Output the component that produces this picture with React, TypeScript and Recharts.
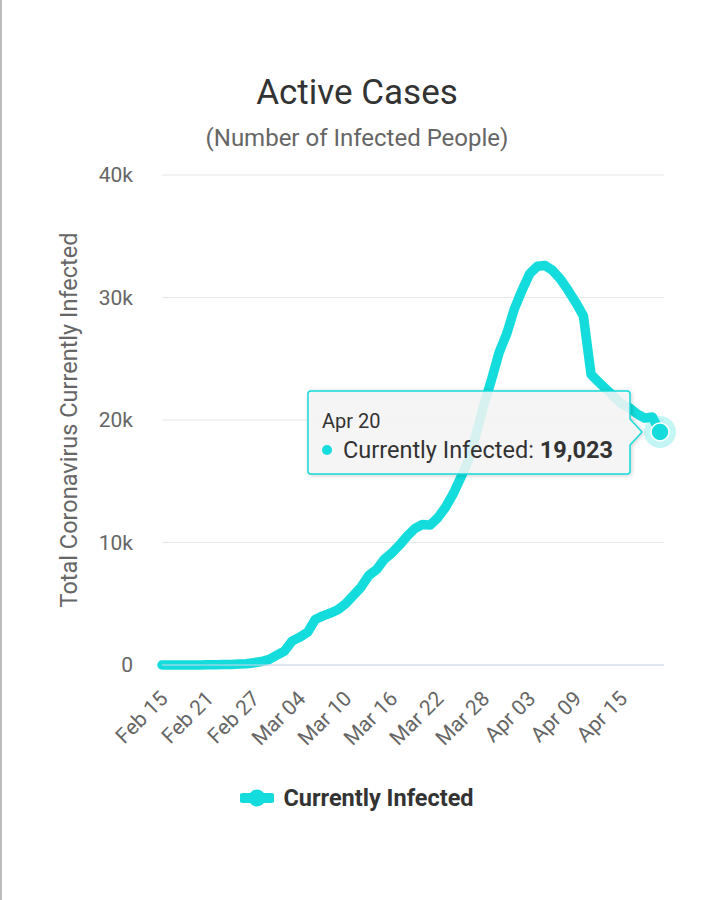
import { LineChart, Line, XAxis, YAxis, CartesianGrid, Tooltip, Legend, Label } from 'recharts';

const DATES = [
  'Feb 15', 'Feb 16', 'Feb 17', 'Feb 18', 'Feb 19', 'Feb 20', 'Feb 21', 'Feb 22', 'Feb 23', 'Feb 24',
  'Feb 25', 'Feb 26', 'Feb 27', 'Feb 28', 'Feb 29', 'Mar 01', 'Mar 02', 'Mar 03', 'Mar 04', 'Mar 05',
  'Mar 06', 'Mar 07', 'Mar 08', 'Mar 09', 'Mar 10', 'Mar 11', 'Mar 12', 'Mar 13', 'Mar 14', 'Mar 15',
  'Mar 16', 'Mar 17', 'Mar 18', 'Mar 19', 'Mar 20', 'Mar 21', 'Mar 22', 'Mar 23', 'Mar 24', 'Mar 25',
  'Mar 26', 'Mar 27', 'Mar 28', 'Mar 29', 'Mar 30', 'Mar 31', 'Apr 01', 'Apr 02', 'Apr 03', 'Apr 04',
  'Apr 05', 'Apr 06', 'Apr 07', 'Apr 08', 'Apr 09', 'Apr 10', 'Apr 11', 'Apr 12', 'Apr 13', 'Apr 14',
  'Apr 15', 'Apr 16', 'Apr 17', 'Apr 18', 'Apr 19', 'Apr 20',
];

const CURRENTLY_INFECTED = [
  0, 0, 0, 0, 0, 3, 14, 23, 35, 49,
  79, 104, 190, 283, 464, 806, 1144, 1968, 2278, 2667,
  3710, 4009, 4238, 4530, 5020, 5687, 6370, 7321, 7779, 8624,
  9142, 9792, 10516, 11144, 11466, 11419, 12022, 12861, 13964, 15315,
  16715, 18821, 21212, 23278, 25500, 27051, 29084, 30597, 31954, 32555,
  32612, 32200, 31500, 30600, 29600, 28495, 23725, 23100, 22500, 21900,
  21300, 21000, 20500, 20150, 20250, 19023,
];

const Y_TICKS = [0, 10000, 20000, 30000, 40000];
const SERIES_NAME = 'Currently Infected';
const TITLE = 'Active Cases';
const SUBTITLE = '(Number of Infected People)';
const Y_TITLE = 'Total Coronavirus Currently Infected';

const COLOR = '#14dcdc';
const FONT = 'Roboto, sans-serif';

const data = DATES.map((date, i) => ({ date, infected: CURRENTLY_INFECTED[i] }));

const formatK = (v: number) => (v === 0 ? '0' : `${v / 1000}k`);

const XTick = ({ x, y, payload }: any) => (
  <g transform={`translate(${x + 7},${y + 27})`}>
    <text textAnchor="end" transform="rotate(-45)" fill="#666666" fontSize={21} fontFamily={FONT}>
      {payload.value}
    </text>
  </g>
);

const YTitle = ({ viewBox }: any) => {
  const x = viewBox.x + 15;
  const y = viewBox.y + viewBox.height / 2;
  return (
    <text x={x} y={y} transform={`rotate(-90, ${x}, ${y})`} textAnchor="middle" fill="#666666" fontSize={23.5} fontFamily={FONT}>
      {Y_TITLE}
    </text>
  );
};

const Marker = ({ cx, cy }: any) => (
  <g>
    <circle cx={cx} cy={cy} r={16} fill={COLOR} fillOpacity={0.25} />
    <circle cx={cx} cy={cy} r={9} fill={COLOR} stroke="#ffffff" strokeWidth={1.5} />
  </g>
);

const TooltipBox = ({ active, payload, label }: any) => {
  if (!active || !payload || !payload.length) return null;
  const value = Number(payload[0].value).toLocaleString('en-US');
  return (
    <div style={{ position: 'relative', width: 340, height: 90, fontFamily: FONT, color: '#333333' }}>
      <svg width={340} height={90} style={{ position: 'absolute', left: 0, top: 0, overflow: 'visible', filter: 'drop-shadow(1px 1px 2px rgba(0,0,0,0.2))' }}>
        <path
          d="M 4 1 H 320 Q 323 1 323 4 V 29 L 335 42 L 323 55 V 81 Q 323 84 320 84 H 4 Q 1 84 1 81 V 4 Q 1 1 4 1 Z"
          fill="rgba(250,250,250,0.85)"
          stroke={COLOR}
          strokeWidth={1.5}
        />
      </svg>
      <div style={{ position: 'absolute', left: 15, top: 19, fontSize: 20, lineHeight: '24px', whiteSpace: 'nowrap' }}>{label}</div>
      <div style={{ position: 'absolute', left: 15, top: 46, fontSize: 23.5, lineHeight: '28px', whiteSpace: 'nowrap', display: 'flex', alignItems: 'center' }}>
        <span style={{ display: 'inline-block', width: 10, height: 10, borderRadius: 5, background: payload[0].color, marginRight: 11 }} />
        <span>
          {payload[0].name}: <b>{value}</b>
        </span>
      </div>
    </div>
  );
};

const LegendRow = ({ payload }: any) => (
  <div style={{ display: 'flex', justifyContent: 'center', alignItems: 'center', fontFamily: FONT }}>
    {(payload || []).map((entry: any) => (
      <div key={entry.value} style={{ display: 'flex', alignItems: 'center' }}>
        <svg width={34} height={20}>
          <line x1={3} x2={31} y1={10} y2={10} stroke={entry.color} strokeWidth={10} strokeLinecap="round" />
          <circle cx={17} cy={10} r={8.5} fill={entry.color} />
        </svg>
        <span style={{ marginLeft: 9, fontSize: 23.5, fontWeight: 'bold', color: '#333333' }}>{entry.value}</span>
      </div>
    ))}
  </div>
);

export default function App() {
  return (
    <div style={{ position: 'relative', width: 714, height: 900, background: '#ffffff', overflow: 'hidden' }}>
      <style>{'body{margin:0}'}</style>
      <LineChart width={714} height={900} data={data} margin={{ top: 175, right: 50, left: 62, bottom: 145 }}>
        <CartesianGrid vertical={false} stroke="#e6e6e6" />
        <XAxis
          dataKey="date"
          height={90}
          interval={5}
          padding={{ left: 0, right: 4 }}
          axisLine={{ stroke: '#ccd6eb' }}
          tickLine={false}
          tick={<XTick />}
        />
        <YAxis
          width={100}
          domain={[0, 40000]}
          ticks={Y_TICKS}
          tickFormatter={formatK}
          axisLine={false}
          tickLine={false}
          tickMargin={23}
          tick={{ fill: '#666666', fontSize: 21, fontFamily: FONT }}
        >
          <Label content={<YTitle />} />
        </YAxis>
        <Tooltip
          content={<TooltipBox />}
          defaultIndex={DATES.length - 1}
          position={{ x: 307, y: 390 }}
          cursor={false}
          isAnimationActive={false}
        />
        <Legend
          verticalAlign="middle"
          align="center"
          content={<LegendRow />}
          wrapperStyle={{ top: 784, left: 0, width: 714 }}
        />
        <Line
          type="linear"
          dataKey="infected"
          name={SERIES_NAME}
          stroke={COLOR}
          strokeWidth={9.5}
          strokeLinejoin="round"
          strokeLinecap="round"
          dot={false}
          activeDot={<Marker />}
          isAnimationActive={false}
        />
      </LineChart>
      <div style={{ position: 'absolute', left: 0, top: 75, width: 714, textAlign: 'center', fontFamily: FONT, fontSize: 35, lineHeight: '35px', color: '#333333' }}>
        {TITLE}
      </div>
      <div style={{ position: 'absolute', left: 0, top: 126, width: 714, textAlign: 'center', fontFamily: FONT, fontSize: 24, lineHeight: '24px', color: '#666666' }}>
        {SUBTITLE}
      </div>
      <div style={{ position: 'absolute', left: 0, top: 0, width: 2, height: 900, background: '#bcbcbc' }} />
    </div>
  );
}
